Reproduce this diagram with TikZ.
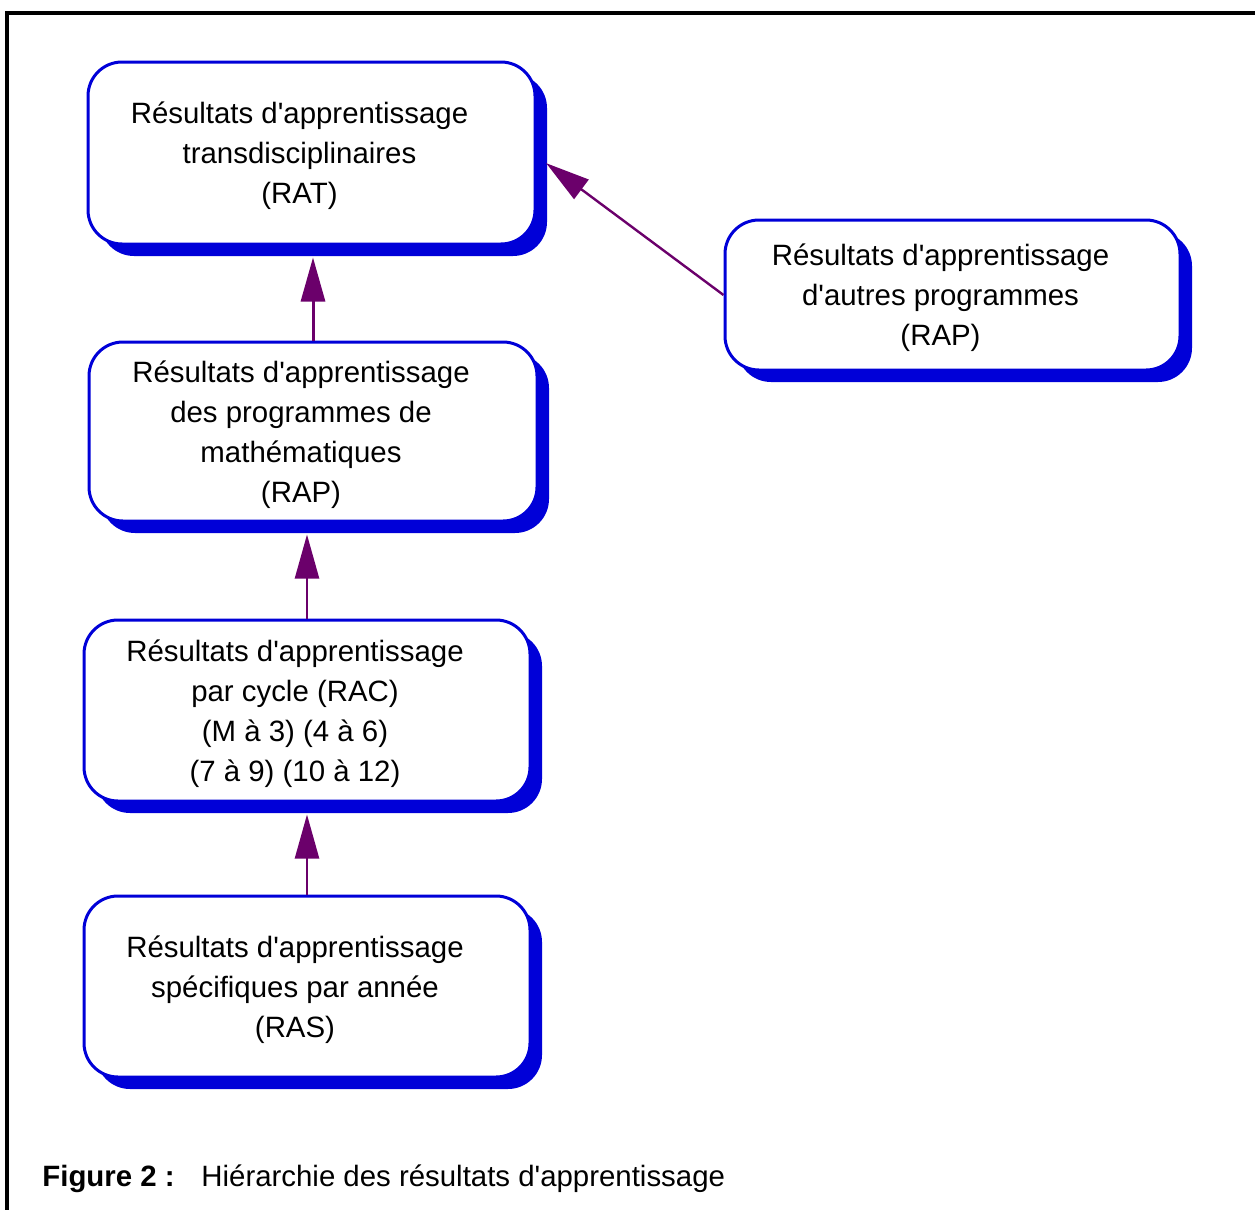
\documentclass[tikz,border=0pt]{standalone}
\usepackage{fontspec}
\setmainfont{Liberation Sans}[Ligatures=TeXOff]
\usepackage{xcolor}
\usetikzlibrary{arrows.meta,shadows}
\definecolor{resblue}{HTML}{0000D8}
\definecolor{arrpurple}{HTML}{6B006B}

\begin{document}
\begin{tikzpicture}[x=0.5pt,y=-0.5pt,
  res/.style={draw=resblue,line width=1.5pt,fill=white,rounded corners=17pt,inner sep=0pt,
    general shadow={shadow xshift=6pt,shadow yshift=-6pt,fill=resblue}},
  lbl/.style={font=\fontsize{14.7}{20}\selectfont,align=center,inner sep=0pt,xshift=-6pt,yshift=-1.5pt},
  arr/.style={-{Triangle[length=22pt,width=12pt]},draw=arrpurple,fill=arrpurple,line width=1.2pt,shorten >=6pt},
  captxt/.style={font=\fontsize{14.7}{18}\selectfont,anchor=base west,inner sep=0pt}]
\useasboundingbox (0,0) rectangle (1255,1210);
% frame (open on the right and at the bottom)
\coordinate (fb) at (7,1210);
\coordinate (fc) at (7,12.5);
\coordinate (fr) at (1255,12.5);
\draw[line width=2pt] (fb) -- (fc) -- (fr);
% hierarchy boxes
\node[res,minimum width=223.5pt,minimum height=91pt]   (rat)  at (311.5,153)  {};
\node[res,minimum width=224pt,minimum height=89.5pt]   (rap)  at (313,431.5)  {};
\node[res,minimum width=223pt,minimum height=90.5pt]   (rac)  at (307,710.5)  {};
\node[res,minimum width=223pt,minimum height=90.5pt]   (ras)  at (307,986.5)  {};
\node[res,minimum width=227.5pt,minimum height=75pt]   (rapo) at (952.5,295)  {};
% box texts
\node[lbl] (rat-t)  at (rat)  {Résultats d'apprentissage\\transdisciplinaires\\(RAT)};
\node[lbl] (rap-t)  at (rap)  {Résultats d'apprentissage\\des programmes de\\mathématiques\\(RAP)};
\node[lbl] (rac-t)  at (rac)  {Résultats d'apprentissage\\par cycle (RAC)\\(M à 3) (4 à 6)\\(7 à 9) (10 à 12)};
\node[lbl] (ras-t)  at (ras)  {Résultats d'apprentissage\\spécifiques par année\\(RAS)};
\node[lbl] (rapo-t) at (rapo) {Résultats d'apprentissage\\d'autres programmes\\(RAP)};
% arrows
\draw[arr,line width=1.5pt] (rap.north) -- (rap.north |- rat.south);
\draw[arr] (rac.north) -- (rac.north |- rap.south);
\draw[arr] (ras.north) -- (ras.north |- rac.south);
\draw[arr] (rapo.west) -- ([yshift=-1.5pt]rat.east);
% caption
\node[captxt,font=\fontsize{14.7}{18}\selectfont\bfseries] (fig) at (42,1186) {Figure 2 :};
\node[captxt] (title) at (201,1186) {Hiérarchie des résultats d'apprentissage};
\end{tikzpicture}
\end{document}
